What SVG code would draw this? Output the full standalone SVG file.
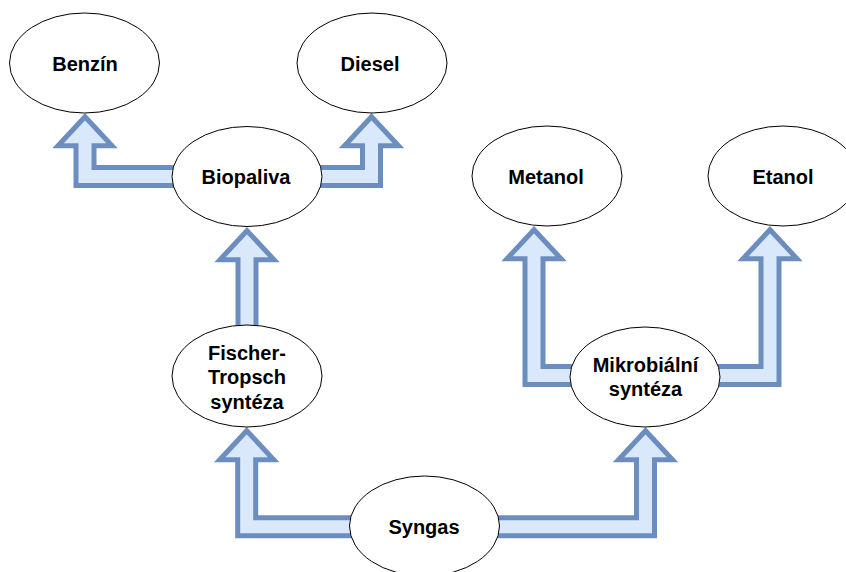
<svg xmlns="http://www.w3.org/2000/svg" width="846" height="572" viewBox="0 0 846 572">
<style>
.arrow{fill:#dae8fc;stroke:#6c8ebf;stroke-width:5;stroke-linejoin:miter;stroke-miterlimit:10}
.node ellipse{fill:#ffffff;stroke:#000000;stroke-width:1}
.node text{font-family:"Liberation Sans",Arial,sans-serif;font-size:20px;font-weight:bold;fill:#000000;text-anchor:middle}
</style>
<rect width="846" height="572" fill="#ffffff"/>
<g id="connectors">
<path class="arrow" d="M178,167.5 L94,167.5 L94,145.7 L112,145.7 L85,116.7 L58,145.7 L76,145.7 L76,185.5 L178,185.5 Z"/>
<path class="arrow" d="M316,167.5 L362.5,167.5 L362.5,145.7 L344.5,145.7 L371.5,116.7 L398.5,145.7 L380.5,145.7 L380.5,185.5 L316,185.5 Z"/>
<path class="arrow" d="M238,332 L238,259.7 L220,259.7 L247,230.7 L274,259.7 L256,259.7 L256,332 Z"/>
<path class="arrow" d="M577,366.5 L543,366.5 L543,258.7 L561,258.7 L534,229.7 L507,258.7 L525,258.7 L525,384.5 L577,384.5 Z"/>
<path class="arrow" d="M714,366.5 L761,366.5 L761,258.7 L743,258.7 L770,229.7 L797,258.7 L779,258.7 L779,384.5 L714,384.5 Z"/>
<path class="arrow" d="M356,517.7 L255.7,517.7 L255.7,459.7 L273.7,459.7 L246.7,430.7 L219.7,459.7 L237.7,459.7 L237.7,535.7 L356,535.7 Z"/>
<path class="arrow" d="M493,517.7 L636.5,517.7 L636.5,459.7 L618.5,459.7 L645.5,430.7 L672.5,459.7 L654.5,459.7 L654.5,535.7 L493,535.7 Z"/>
</g>
<g id="benzin" class="node"><ellipse cx="84.5" cy="63" rx="75" ry="50"/><text x="85" y="70.5">Benzín</text></g>
<g id="diesel" class="node"><ellipse cx="372" cy="63" rx="75" ry="50"/><text x="370" y="70.5">Diesel</text></g>
<g id="biopaliva" class="node"><ellipse cx="247" cy="176.5" rx="75" ry="50"/><text x="246" y="184">Biopaliva</text></g>
<g id="metanol" class="node"><ellipse cx="547" cy="176" rx="75" ry="50"/><text x="546" y="183.5">Metanol</text></g>
<g id="etanol" class="node"><ellipse cx="783" cy="176" rx="75" ry="50"/><text x="783" y="183.5">Etanol</text></g>
<g id="fischer" class="node"><ellipse cx="247" cy="376" rx="75" ry="51"/><text x="247" y="359.5">Fischer-</text><text x="247" y="384">Tropsch</text><text x="247" y="408.5">syntéza</text></g>
<g id="mikrobialni" class="node"><ellipse cx="645" cy="377" rx="75" ry="50"/><text x="645.5" y="372">Mikrobiální</text><text x="645.5" y="396">syntéza</text></g>
<g id="syngas" class="node"><ellipse cx="424.5" cy="526" rx="75" ry="50"/><text x="424" y="533.5">Syngas</text></g>
</svg>
